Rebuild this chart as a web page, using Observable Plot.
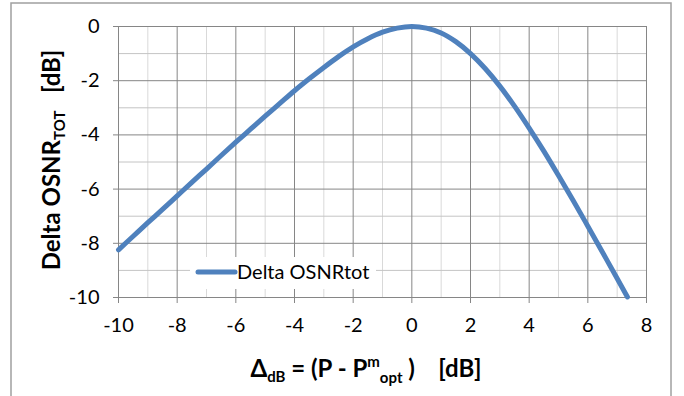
<!DOCTYPE html>
<html>
<head>
<meta charset="utf-8">
<script src="https://cdn.jsdelivr.net/npm/d3@7"></script>
<script src="https://cdn.jsdelivr.net/npm/@observablehq/plot@0.6"></script>
<style>
  html, body { margin: 0; padding: 0; background: #fff; }
  #chart { width: 684px; height: 396px; overflow: hidden; }
</style>
</head>
<body>
<div id="chart"></div>
<script>
// Data
const deltaDb = [-10,-9.5,-9,-8.5,-8,-7.5,-7,-6.5,-6,-5.5,-5,-4.5,-4,-3.5,-3,-2.5,-2,-1.5,-1,-0.5,0,0.5,1,1.5,2,2.5,3,3.5,4,4.5,5,5.5,6,6.5,7,7.35];
const deltaOsnr = [-8.24,-7.74,-7.24,-6.75,-6.25,-5.75,-5.26,-4.76,-4.27,-3.79,-3.31,-2.84,-2.37,-1.93,-1.51,-1.11,-0.75,-0.45,-0.21,-0.06,0,-0.06,-0.24,-0.56,-1.00,-1.55,-2.20,-2.94,-3.75,-4.60,-5.50,-6.42,-7.37,-8.33,-9.30,-9.98];
const xMajorTicks = [-10,-8,-6,-4,-2,0,2,4,6,8];
const xMinorTicks = [-9,-7,-5,-3,-1,1,3,5,7];
const yMajorTicks = [0,-2,-4,-6,-8,-10];
const yMinorTicks = [-1,-3,-5,-7,-9];
const seriesName = "Delta OSNRtot";

const data = deltaDb.map((d, i) => ({x: d, y: deltaOsnr[i]}));

const blue = "#4f81bd";
const major = "#868686";
const minorV = "#d9d9d9";
const minorH = "#c4c4c4";

const chart = Plot.plot({
  width: 684,
  height: 396,
  marginLeft: 118,
  marginRight: 38,
  marginTop: 26,
  marginBottom: 99,
  style: {fontFamily: "Lato, 'Open Sans', sans-serif", fontSize: "20px", color: "#000", background: "#fff", overflow: "visible"},
  x: {domain: [-10, 8]},
  y: {domain: [-10, 0]},
  marks: [
    Plot.gridX(xMinorTicks, {stroke: minorV, strokeOpacity: 1}),
    Plot.gridY(yMinorTicks, {stroke: minorH, strokeOpacity: 1}),
    Plot.gridX(xMajorTicks, {stroke: major, strokeOpacity: 1}),
    Plot.gridY(yMajorTicks, {stroke: major, strokeOpacity: 1}),
    Plot.axisX({ticks: xMajorTicks, tickSize: 6, tickPadding: 14, tickFormat: d => String(d), label: null, stroke: major, fill: "#000"}),
    Plot.axisY({ticks: yMajorTicks, tickSize: 5, tickPadding: 14, tickFormat: d => String(d), label: null, stroke: major, fill: "#000"}),
    Plot.line(data, {x: "x", y: "y", stroke: blue, strokeWidth: 5, curve: "catmull-rom"})
  ]
});

document.getElementById("chart").appendChild(chart);

const svg = d3.select(chart);

// outer chart border
svg.append("rect")
  .attr("x", 11).attr("y", 3).attr("width", 660).attr("height", 430)
  .attr("fill", "none").attr("stroke", "#a0a0a0").attr("stroke-width", 1.5);

// legend
const lg = svg.append("g").attr("text-anchor", "start");
lg.append("rect").attr("x", 190).attr("y", 257).attr("width", 186).attr("height", 32).attr("fill", "#fff");
lg.append("line").attr("x1", 198).attr("x2", 235).attr("y1", 272).attr("y2", 272)
  .attr("stroke", blue).attr("stroke-width", 5).attr("stroke-linecap", "round");
lg.append("text").attr("x", 237).attr("y", 272).attr("dy", "0.35em")
  .attr("text-anchor", "start")
  .attr("font-family", "Lato, sans-serif").attr("font-size", 20).attr("fill", "#000")
  .text(seriesName);

// y axis title
const yt = svg.append("text")
  .attr("transform", "translate(60,160) rotate(-90)")
  .attr("text-anchor", "middle")
  .attr("font-family", "Lato, sans-serif").attr("font-weight", "bold").attr("font-size", 24)
  .attr("fill", "#000").style("white-space", "pre");
yt.append("tspan").text("Delta OSNR");
yt.append("tspan").attr("font-size", 15).attr("dy", 5).text("TOT");
yt.append("tspan").attr("dy", -5).text("   [dB]");

// x axis title
const xt = svg.append("text")
  .attr("x", 366).attr("y", 377)
  .attr("text-anchor", "middle")
  .attr("font-family", "Lato, sans-serif").attr("font-weight", "bold").attr("font-size", 24)
  .attr("fill", "#000").style("white-space", "pre");
xt.append("tspan").text("Δ");
xt.append("tspan").attr("font-size", 15).attr("dy", 5).text("dB");
xt.append("tspan").attr("dy", -5).text(" = (P - P");
xt.append("tspan").attr("font-size", 15).attr("dy", -10).text("m");
xt.append("tspan").attr("font-size", 15).attr("dy", 16).text("opt");
xt.append("tspan").attr("dy", -6).text(" )    [dB]");
</script>
</body>
</html>
